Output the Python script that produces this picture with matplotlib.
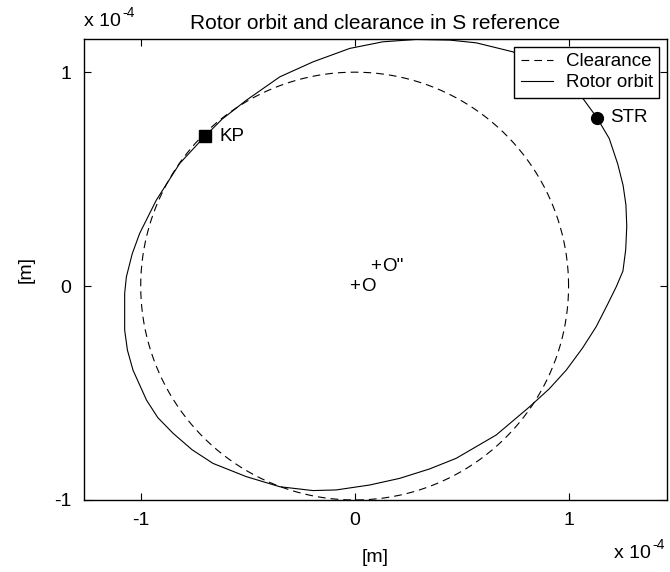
import numpy as np
import matplotlib
matplotlib.use("Agg")
import matplotlib.pyplot as plt

# all positions in units of 1e-4 m
CLEARANCE_R = 1.0

orbit_x = [1.132, 1.067, 0.98, 0.88, 0.74, 0.569, 0.444, 0.288, 0.132, -0.023,
           -0.195, -0.35, -0.506, -0.62, -0.705, -0.818, -0.927, -1.005, -1.04,
           -1.067, -1.075, -1.075, -1.062, -1.036, -0.973, -0.92, -0.849, -0.76,
           -0.662, -0.506, -0.35, -0.195, -0.086, 0.07, 0.21, 0.35, 0.475, 0.662,
           0.818, 0.91, 0.989, 1.065, 1.129, 1.18, 1.223, 1.254, 1.267, 1.272,
           1.268, 1.255, 1.23, 1.19, 1.132]
orbit_y = [0.788, 0.877, 0.95, 1.02, 1.095, 1.137, 1.15, 1.153, 1.142, 1.111,
           1.048, 0.978, 0.869, 0.78, 0.695, 0.573, 0.402, 0.246, 0.15,
           0.043, -0.034, -0.206, -0.30, -0.393, -0.533, -0.615, -0.688, -0.765,
           -0.829, -0.891, -0.938, -0.956, -0.953, -0.93, -0.899, -0.855, -0.805, -0.696,
           -0.564, -0.48, -0.393, -0.29, -0.19, -0.09, -0.003, 0.07, 0.17, 0.28,
           0.38, 0.47, 0.57, 0.69, 0.788]

kp = (-0.70, 0.70)
str_pt = (1.134, 0.788)
center_o = (0.0, 0.0)
center_o2 = (0.10, 0.09)

plt.rcParams.update({
    "font.family": ["Liberation Sans", "DejaVu Sans"],
    "font.size": 13.5,
    "axes.unicode_minus": False,
})

fig = plt.figure(figsize=(6.7, 5.72), dpi=100)
ax = fig.add_axes([0.1254, 0.1259, 0.8701, 0.8059])

th = np.linspace(0, 2 * np.pi, 361)
ax.plot(CLEARANCE_R * np.cos(th), CLEARANCE_R * np.sin(th), color="k", lw=0.8,
        dashes=(7, 4.5), label="Clearance")
ax.plot(orbit_x, orbit_y, color="k", lw=0.8, label="Rotor orbit")

ax.plot(*kp, marker="s", ms=8.5, color="k", ls="none")
ax.plot(*str_pt, marker="o", ms=8.5, color="k", ls="none")
ax.text(kp[0] + 0.07, kp[1], "KP", va="center", ha="left")
ax.text(str_pt[0] + 0.06, str_pt[1], "STR", va="center", ha="left")
ax.text(center_o[0], center_o[1], "+", va="center", ha="center")
ax.text(center_o[0] + 0.03, center_o[1], "O", va="center", ha="left")
ax.text(center_o2[0], center_o2[1], "+", va="center", ha="center")
ax.text(center_o2[0] + 0.03, center_o2[1], "O''", va="center", ha="left")

ax.set_xlim(-1.265, 1.46)
ax.set_ylim(-1.0, 1.155)
ax.set_xticks([-1, 0, 1])
ax.set_yticks([-1, 0, 1])
ax.set_xticklabels(["-1", "0", "1"])
ax.set_yticklabels(["-1", "0", "1"])
ax.tick_params(direction="in", length=5, width=0.8, top=True, right=True,
               labelsize=14, pad=9)
for sp in ax.spines.values():
    sp.set_linewidth(1.0)

ax.set_xlabel("[m]", fontsize=14, labelpad=14)
ax.set_ylabel("[m]", fontsize=14, labelpad=14)

leg = ax.legend(loc="upper right", fancybox=False, framealpha=1, edgecolor="k",
                borderaxespad=0.4, handlelength=1.7, handletextpad=0.7,
                labelspacing=0.2, borderpad=0.35, fontsize=13.5)
leg.get_frame().set_linewidth(1.0)

fig.text(0.5604, 0.976, "Rotor orbit and clearance in S reference", ha="center",
         va="top", fontsize=15)


def exponent_label(x, y, ha):
    """Draw the 'x 10' axis multiplier with a raised '-4'."""
    base = fig.text(x, y, "x 10", ha="left", va="baseline", fontsize=14)
    fig.canvas.draw()
    bb = base.get_window_extent()
    w = bb.width / fig.bbox.width
    if ha == "right":
        x0 = x - w - 0.024
        base.set_x(x0)
    else:
        x0 = x
    fig.text(x0 + w + 0.002, y + 0.016, "-4", ha="left", va="baseline", fontsize=10)


exponent_label(0.1254, 0.955, "left")
exponent_label(0.9955, 0.025, "right")

fig.savefig("out.png", dpi=100)
